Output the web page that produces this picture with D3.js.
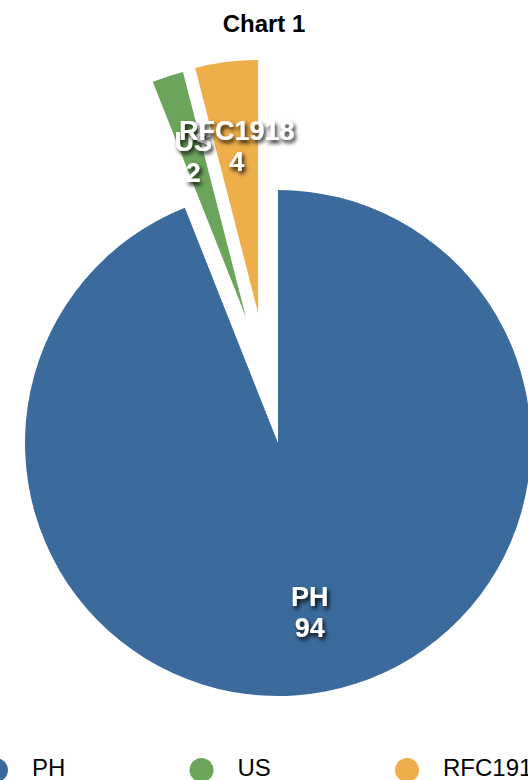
<!DOCTYPE html>
<html><head><meta charset="utf-8">
<script src="https://cdn.jsdelivr.net/npm/d3@7"></script>
<style>html,body{margin:0;padding:0;background:#fff;overflow:hidden}</style>
</head><body><svg id="c" width="528" height="780"></svg>
<script>
// ---- data ----
const categories = ["PH", "US", "RFC1918"];
const values = [94, 2, 4];
const colors = ["#3b6a9c", "#6ba55b", "#eeae4a"];
const chartTitle = "Chart 1";

// ---- layout / style ----
const W = 528, H = 780;
const cx = 278, cy = 443, R = 253;
const labelR = 170;
const explode = { US: { dist: 130, deg: 14.3 }, RFC1918: { dist: 131.5, deg: 8.7 } };
const font = "'Liberation Sans', Arial, Helvetica, sans-serif";

const svg = d3.select("#c");
const defs = svg.append("defs");
const f = defs.append("filter").attr("id", "shadow")
  .attr("x", "-20%").attr("y", "-20%").attr("width", "150%").attr("height", "160%");
f.append("feDropShadow").attr("dx", 2).attr("dy", 3).attr("stdDeviation", 2.2)
  .attr("flood-color", "#000").attr("flood-opacity", 0.9);

const data = categories.map((c, i) => ({ cat: c, value: values[i], color: colors[i] }));
const color = d3.scaleOrdinal().domain(categories).range(colors);

const pie = d3.pie().value(d => d.value).sort(null).startAngle(0).endAngle(2 * Math.PI);
const arcs = pie(data);
const arc = d3.arc().innerRadius(0).outerRadius(R);

function offset(d) {
  const e = explode[d.data.cat];
  if (!e) return [0, 0];
  const a = e.deg * Math.PI / 180;
  return [-e.dist * Math.sin(a), -e.dist * Math.cos(a)];
}

const g = svg.append("g").attr("transform", `translate(${cx},${cy})`);
const slices = g.selectAll("g.slice").data(arcs).enter().append("g")
  .attr("class", "slice")
  .attr("transform", d => { const o = offset(d); return `translate(${o[0]},${o[1]})`; });
slices.append("path").attr("d", arc).attr("fill", d => color(d.data.cat));

// labels
const labels = g.selectAll("g.lbl").data(arcs).enter().append("g")
  .attr("class", "lbl")
  .attr("transform", d => {
    const o = offset(d);
    const m = (d.startAngle + d.endAngle) / 2;
    return `translate(${o[0] + labelR * Math.sin(m)},${o[1] - labelR * Math.cos(m)})`;
  })
  .attr("filter", "url(#shadow)");
labels.append("text").attr("text-anchor", "middle").attr("y", -4)
  .attr("font-family", font).attr("font-weight", "bold").attr("font-size", 27)
  .attr("fill", "#fff").text(d => d.data.cat);
labels.append("text").attr("text-anchor", "middle").attr("y", 27)
  .attr("font-family", font).attr("font-weight", "bold").attr("font-size", 27)
  .attr("fill", "#fff").text(d => d.data.value);

// title
svg.append("text").attr("x", W / 2).attr("y", 32).attr("text-anchor", "middle")
  .attr("font-family", font).attr("font-weight", "bold").attr("font-size", 24)
  .attr("fill", "#000").text(chartTitle);

// legend
const legendX = d3.scalePoint().domain(categories).range([-4, 407]);
const lg = svg.append("g").selectAll("g").data(categories).enter().append("g")
  .attr("transform", c => `translate(${legendX(c)},770)`);
lg.append("circle").attr("r", 12).attr("fill", c => color(c));
lg.append("text").attr("x", 36).attr("y", 6)
  .attr("font-family", font).attr("font-size", 24).attr("fill", "#000").text(c => c);
</script></body></html>
